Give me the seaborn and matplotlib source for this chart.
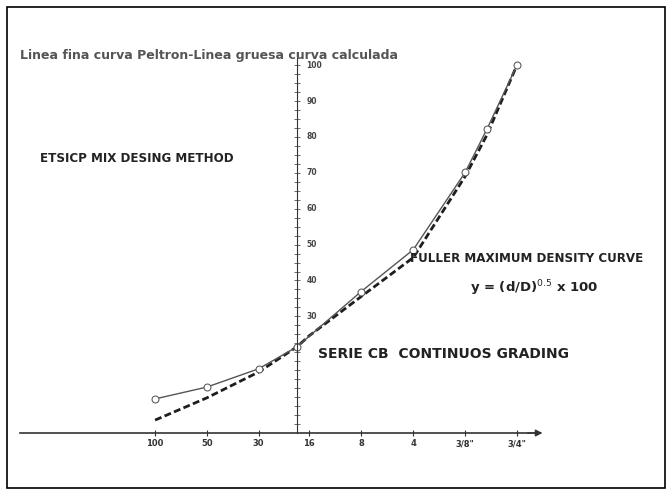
import numpy as np
import matplotlib
matplotlib.use("Agg")
import matplotlib.pyplot as plt
import matplotlib.patches as patches
import seaborn as sns
import pandas as pd

# --- Data ---
SIEVE_MM = [0.15, 0.3, 0.6, 1.18, 2.36, 4.75, 9.5, 19.0]
SIEVE_LABELS = ["100", "50", "30", "16", "8", "4", "3/8\"", "3/4\""]

# thin line, open circles (Peltron curve)
THIN_D = [0.15, 0.3, 0.6, 1.0, 2.36, 4.75, 9.5, 12.7, 19.0]
THIN_P = [7.0, 10.3, 15.4, 21.5, 36.9, 48.6, 70.1, 82.1, 100.0]

# thick dash-dot line (calculated curve)
THICK_D = [0.15, 0.3, 0.6, 1.0, 1.18, 2.36, 4.75, 9.5, 12.7, 19.0]
THICK_P = [1.1, 7.3, 14.5, 21.5, 24.6, 35.5, 46.4, 69.0, 80.5, 100.0]

Y_LABELS = [30, 40, 50, 60, 70, 80, 90, 100]

thin = pd.DataFrame({"d": THIN_D, "p": THIN_P})
thick = pd.DataFrame({"d": THICK_D, "p": THICK_P})

sns.set_style("white")
plt.rcParams["font.family"] = ["DejaVu Sans"]

fig = plt.figure(figsize=(6.72, 4.93), dpi=100)
ax = fig.add_axes([20 / 672, 60 / 493, 515 / 672, 375 / 493])

sns.lineplot(data=thick, x="d", y="p", ax=ax, color="#1e1e1e", linewidth=2.0,
             linestyle=(0, (2.5, 1.2)), estimator=None, sort=False)
sns.lineplot(data=thin, x="d", y="p", ax=ax, color="#555555", linewidth=1.0,
             marker="o", markersize=5, markerfacecolor="white",
             markeredgecolor="#555555", estimator=None, sort=False)

ax.set_xscale("log", base=2)
ax.set_xlim(0.0246, 24.2)
ax.set_ylim(-2.5, 102)

# centred axes like the original drawing
ax.spines["top"].set_visible(False)
ax.spines["right"].set_visible(False)
ax.spines["left"].set_position(("data", 1.0))
ax.spines["left"].set_color("#333333")
ax.spines["bottom"].set_color("#333333")
ax.spines["bottom"].set_linewidth(1.2)

ax.set_xticks(SIEVE_MM)
ax.set_xticklabels(SIEVE_LABELS, fontsize=6, fontweight="bold", color="#333333")
ax.xaxis.set_minor_locator(matplotlib.ticker.NullLocator())
ax.tick_params(axis="x", bottom=True, direction="inout", length=5, width=0.8,
               color="#333333", pad=2)

ax.set_yticks(np.arange(0, 101, 2.5))
ax.set_yticklabels([])
ax.tick_params(axis="y", left=True, direction="inout", length=4, width=0.6,
               color="#555555")
for v in Y_LABELS:
    ax.annotate(str(v), xy=(1.0, v), xytext=(7, 0), textcoords="offset points",
                fontsize=5.5, fontweight="bold", color="#444444",
                ha="left", va="center")

ax.set_xlabel("")
ax.set_ylabel("")

# arrow on the x axis
ax.annotate("", xy=(1.02, -2.5), xycoords=("axes fraction", "data"),
            xytext=(0.98, -2.5), textcoords=("axes fraction", "data"),
            arrowprops=dict(arrowstyle="-|>", color="#333333", lw=1),
            annotation_clip=False)

# texts
fig.text(20 / 672, 1 - 55 / 493, "Linea fina curva Peltron-Linea gruesa curva calculada",
         fontsize=9, fontweight="bold", color="#555555", ha="left", va="center")
fig.text(40 / 672, 1 - 158 / 493, "ETSICP MIX DESING METHOD",
         fontsize=8.6, fontweight="bold", color="#222222", ha="left", va="center")
fig.text(410 / 672, 1 - 258 / 493, "FULLER MAXIMUM DENSITY CURVE",
         fontsize=8.6, fontweight="bold", color="#222222", ha="left", va="center")
fig.text(470 / 672, 1 - 288 / 493, r"y = (d/D)$^{0.5}$ x 100",
         fontsize=9.5, fontweight="bold", color="#222222", ha="left", va="center")
fig.text(318 / 672, 1 - 354 / 493, "SERIE CB  CONTINUOS GRADING",
         fontsize=10, fontweight="bold", color="#222222", ha="left", va="center")

# border around the whole picture
fig.patches.append(patches.Rectangle((7 / 672, 5 / 493), 658 / 672, 481 / 493,
                                     transform=fig.transFigure, fill=False,
                                     edgecolor="black", linewidth=1.2))

fig.savefig("out.png", dpi=100)
